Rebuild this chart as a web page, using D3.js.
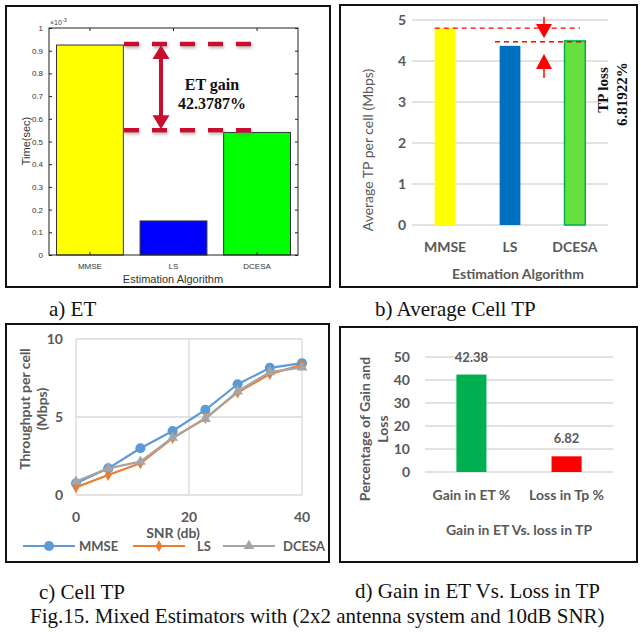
<!DOCTYPE html>
<html>
<head>
<meta charset="utf-8">
<script src="https://cdn.jsdelivr.net/npm/d3@7/dist/d3.min.js"></script>
<style>
body { margin: 0; background: #fff; }
</style>
</head>
<body>
<div id="fig"></div>
<script>
// ---- data ----
var algos = ["MMSE", "LS", "DCESA"];
var etTime = [0.925, 0.15, 0.54];          // execution time, x10^-3 sec
var etTicks = [0, 0.1, 0.2, 0.3, 0.4, 0.5, 0.6, 0.7, 0.8, 0.9, 1];
var etGuides = [0.93, 0.55];               // dashed lines for the gain arrow

var tpAvg = [4.8, 4.37, 4.49];             // Mbps
var tpTicks = [0, 1, 2, 3, 4, 5];
var tpGuides = [4.8, 4.47];

var snr = [0, 5.7, 11.4, 17.1, 22.9, 28.6, 34.3, 40];
var tpMMSE = [0.75, 1.71, 3.0, 4.1, 5.46, 7.1, 8.15, 8.45];
var tpLS = [0.49, 1.28, 2.03, 3.64, 4.93, 6.57, 7.75, 8.35];
var tpDCESA = [0.86, 1.71, 2.14, 3.68, 4.88, 6.64, 7.88, 8.18];
var snrTicks = [0, 20, 40];
var cellTicks = [0, 5, 10];

var gainCats = ["Gain in ET %", "Loss in Tp %"];
var gainVals = [42.38, 6.82];
var gainTicks = [0, 10, 20, 30, 40, 50];

var xlFont = "Lato, 'Open Sans', sans-serif";
var xlGray = "#595959";
var serif = "'Liberation Serif', 'Times New Roman', serif";

var svg = d3.select("#fig").append("svg")
    .attr("width", 641)
    .attr("height", 632);
svg.append("rect").attr("width", 641).attr("height", 632).attr("fill", "#fff");

// soft grey shadow under the thick dashes of panel a
var defs = svg.append("defs");
var blur = defs.append("filter").attr("id", "shade")
    .attr("filterUnits", "userSpaceOnUse")
    .attr("x", 0).attr("y", 0).attr("width", 641).attr("height", 632);
blur.append("feDropShadow")
    .attr("dx", 1).attr("dy", 2).attr("stdDeviation", 1.6)
    .attr("flood-color", "#777").attr("flood-opacity", 0.5);

// panel frames
function frame(x0, y0, x1, y1) {
    svg.append("rect")
        .attr("x", x0).attr("y", y0)
        .attr("width", x1 - x0).attr("height", y1 - y0)
        .attr("fill", "none").attr("stroke", "#111").attr("stroke-width", 2);
}
frame(6, 6, 330, 287);
frame(340, 5, 637, 287);
frame(6, 324, 329, 562);
frame(340, 327, 637, 562);

// ================= a) ET (matlab style) =================
var ga = svg.append("g").attr("font-family", "'Liberation Sans', Arial, sans-serif");
var xa = d3.scaleBand().domain(algos).range([49, 298]).paddingInner(0.2).paddingOuter(0.09);
var ya = d3.scaleLinear().domain([0, 1]).range([255, 28]);

ga.selectAll("rect.bar").data(algos).enter().append("rect")
    .attr("class", "bar")
    .attr("x", function(d) { return xa(d); })
    .attr("y", function(d, i) { return ya(etTime[i]); })
    .attr("width", xa.bandwidth())
    .attr("height", function(d, i) { return ya(0) - ya(etTime[i]); })
    .attr("fill", function(d, i) { return ["#ffff00", "#0000ff", "#00ff00"][i]; })
    .attr("stroke", "#333").attr("stroke-width", 1);

// box + ticks pointing inwards
ga.append("rect").attr("x", 49).attr("y", 28).attr("width", 249).attr("height", 227)
    .attr("fill", "none").attr("stroke", "#222").attr("stroke-width", 1);

var axL = ga.append("g").attr("transform", "translate(49,0)")
    .call(d3.axisLeft(ya).tickValues(etTicks).tickSizeInner(-3).tickSizeOuter(0).tickPadding(6)
        .tickFormat(function(d) { return String(d); }));
var axR = ga.append("g").attr("transform", "translate(298,0)")
    .call(d3.axisRight(ya).tickValues(etTicks).tickSizeInner(-3).tickSizeOuter(0).tickFormat(""));
var axB = ga.append("g").attr("transform", "translate(0,255)")
    .call(d3.axisBottom(xa).tickSizeInner(-3).tickSizeOuter(0).tickPadding(8));
var axT = ga.append("g").attr("transform", "translate(0,28)")
    .call(d3.axisTop(xa).tickSizeInner(-3).tickSizeOuter(0).tickFormat(""));
[axL, axR, axB, axT].forEach(function(a) {
    a.select(".domain").remove();
    a.selectAll("line").attr("stroke", "#222");
    a.selectAll("text").attr("font-family", "'Liberation Sans', Arial, sans-serif")
        .attr("font-size", 8).attr("fill", "#333");
});

ga.append("text").attr("x", 50).attr("y", 25).attr("font-size", 7).attr("fill", "#444")
    .html("\u00d710<tspan dy='-3' font-size='5.5'>-3</tspan>");
ga.append("text")
    .attr("transform", "translate(30,141) rotate(-90)")
    .attr("text-anchor", "middle").attr("font-size", 11).attr("fill", "#333")
    .text("Time(sec)");
ga.append("text").attr("x", 173).attr("y", 283)
    .attr("text-anchor", "middle").attr("font-size", 11).attr("fill", "#333")
    .text("Estimation Algorithm");

// gain annotation
var crim = "#c8102e";
var ann = ga.append("g");
ann.selectAll("line.guide").data(etGuides).enter().append("line")
    .attr("class", "guide")
    .attr("x1", 124).attr("x2", 252)
    .attr("y1", function(d) { return ya(d); })
    .attr("y2", function(d) { return ya(d); })
    .attr("stroke", crim).attr("stroke-width", 4.5)
    .attr("stroke-dasharray", "15,13")
    .attr("filter", "url(#shade)");
var ax0 = 161, yTop = ya(etGuides[0]) + 1, yBot = ya(etGuides[1]) - 1;
ann.append("line").attr("x1", ax0).attr("x2", ax0)
    .attr("y1", yTop + 10).attr("y2", yBot - 10)
    .attr("stroke", crim).attr("stroke-width", 4);
ann.append("path")
    .attr("d", "M" + ax0 + "," + yTop + "L" + (ax0 - 8.5) + "," + (yTop + 14) + "L" + (ax0 + 8.5) + "," + (yTop + 14) + "Z")
    .attr("fill", crim);
ann.append("path")
    .attr("d", "M" + ax0 + "," + yBot + "L" + (ax0 - 8.5) + "," + (yBot - 14) + "L" + (ax0 + 8.5) + "," + (yBot - 14) + "Z")
    .attr("fill", crim);
ann.append("text").attr("x", 212).attr("y", 90)
    .attr("text-anchor", "middle").attr("font-family", serif).attr("font-weight", "bold")
    .attr("font-size", 16).attr("fill", "#111").text("ET gain");
ann.append("text").attr("x", 212).attr("y", 109)
    .attr("text-anchor", "middle").attr("font-family", serif).attr("font-weight", "bold")
    .attr("font-size", 16).attr("fill", "#111").text("42.3787%");

// ================= b) Average Cell TP =================
var gb = svg.append("g").attr("font-family", xlFont);
var xb = d3.scaleBand().domain(algos).range([412, 608]).paddingInner(0.68).paddingOuter(0.35);
var yb = d3.scaleLinear().domain([0, 5]).range([225, 20]);

gb.selectAll("line.grid").data(tpTicks).enter().append("line")
    .attr("class", "grid")
    .attr("x1", 412).attr("x2", 608)
    .attr("y1", function(d) { return yb(d); }).attr("y2", function(d) { return yb(d); })
    .attr("stroke", "#d9d9d9").attr("stroke-width", 1.5);
gb.selectAll("text.tick").data(tpTicks).enter().append("text")
    .attr("class", "tick")
    .attr("x", 406).attr("y", function(d) { return yb(d) + 5; })
    .attr("text-anchor", "end").attr("font-size", 14).attr("font-weight", "bold").attr("fill", xlGray)
    .text(function(d) { return d; });

gb.selectAll("rect.bar").data(algos).enter().append("rect")
    .attr("class", "bar")
    .attr("x", function(d) { return xb(d); })
    .attr("y", function(d, i) { return yb(tpAvg[i]); })
    .attr("width", xb.bandwidth())
    .attr("height", function(d, i) { return yb(0) - yb(tpAvg[i]); })
    .attr("fill", function(d, i) { return ["#ffff00", "#0070c0", "#66e03f"][i]; })
    .attr("stroke", function(d, i) { return i === 2 ? "#00b050" : "none"; })
    .attr("stroke-width", 1.5);

gb.selectAll("text.cat").data(algos).enter().append("text")
    .attr("class", "cat")
    .attr("x", function(d) { return xb(d) + xb.bandwidth() / 2; })
    .attr("y", 252)
    .attr("text-anchor", "middle").attr("font-size", 14).attr("font-weight", "bold").attr("fill", xlGray)
    .text(function(d) { return d; });
gb.append("text").attr("x", 518).attr("y", 279)
    .attr("text-anchor", "middle").attr("font-size", 14).attr("font-weight", "bold").attr("fill", xlGray)
    .text("Estimation Algorithm");
gb.append("text")
    .attr("transform", "translate(373,150) rotate(-90)")
    .attr("text-anchor", "middle").attr("font-size", 14).attr("fill", xlGray)
    .text("Average TP per cell (Mbps)");

// loss annotation
var red = "#ff0000";
gb.append("line").attr("x1", xb("MMSE")).attr("x2", 580)
    .attr("y1", yb(tpGuides[0])).attr("y2", yb(tpGuides[0]))
    .attr("stroke", red).attr("stroke-width", 1.3).attr("stroke-dasharray", "5,4");
gb.append("line").attr("x1", 495).attr("x2", 586)
    .attr("y1", yb(tpGuides[1])).attr("y2", yb(tpGuides[1]))
    .attr("stroke", red).attr("stroke-width", 1.3).attr("stroke-dasharray", "5,4");
var bx = 544;
gb.append("line").attr("x1", bx).attr("x2", bx).attr("y1", 17).attr("y2", 26)
    .attr("stroke", red).attr("stroke-width", 1.5);
gb.append("path").attr("d", "M" + (bx - 8) + ",24L" + (bx + 8) + ",24L" + bx + ",38Z").attr("fill", red);
gb.append("line").attr("x1", bx).attr("x2", bx).attr("y1", 67).attr("y2", 78)
    .attr("stroke", red).attr("stroke-width", 1.5);
gb.append("path").attr("d", "M" + (bx - 8) + ",69L" + (bx + 8) + ",69L" + bx + ",54Z").attr("fill", red);
gb.append("text")
    .attr("transform", "translate(603,90) rotate(-90)")
    .attr("text-anchor", "middle").attr("dominant-baseline", "central")
    .attr("font-family", serif).attr("font-weight", "bold").attr("font-size", 15).attr("fill", "#111")
    .text("TP loss");
gb.append("text")
    .attr("transform", "translate(622,94) rotate(-90)")
    .attr("text-anchor", "middle").attr("dominant-baseline", "central")
    .attr("font-family", serif).attr("font-weight", "bold").attr("font-size", 15).attr("fill", "#111")
    .text("6.81922%");

// ================= c) Cell TP =================
var gc = svg.append("g").attr("font-family", xlFont);
var xc = d3.scaleLinear().domain([0, 40]).range([76, 302]);
var yc = d3.scaleLinear().domain([0, 10]).range([495, 339]);

gc.selectAll("line.hgrid").data(cellTicks).enter().append("line")
    .attr("class", "hgrid")
    .attr("x1", xc(0)).attr("x2", xc(40))
    .attr("y1", function(d) { return yc(d); }).attr("y2", function(d) { return yc(d); })
    .attr("stroke", "#d9d9d9").attr("stroke-width", 1.3);
gc.selectAll("line.vgrid").data(snrTicks).enter().append("line")
    .attr("class", "vgrid")
    .attr("y1", yc(0)).attr("y2", yc(10))
    .attr("x1", function(d) { return xc(d); }).attr("x2", function(d) { return xc(d); })
    .attr("stroke", "#d9d9d9").attr("stroke-width", 1.3);
gc.selectAll("text.ytick").data(cellTicks).enter().append("text")
    .attr("class", "ytick")
    .attr("x", 63).attr("y", function(d) { return yc(d) + 5; })
    .attr("text-anchor", "end").attr("font-size", 14).attr("font-weight", "bold").attr("fill", xlGray)
    .text(function(d) { return d; });
gc.selectAll("text.xtick").data(snrTicks).enter().append("text")
    .attr("class", "xtick")
    .attr("x", function(d) { return xc(d); }).attr("y", 522)
    .attr("text-anchor", "middle").attr("font-size", 14).attr("font-weight", "bold").attr("fill", xlGray)
    .text(function(d) { return d; });

gc.append("text").attr("x", 173).attr("y", 538)
    .attr("text-anchor", "middle").attr("font-size", 14).attr("font-weight", "bold").attr("fill", xlGray)
    .text("SNR (db)");
var yTitle = gc.append("text")
    .attr("transform", "translate(30,409) rotate(-90)")
    .attr("text-anchor", "middle").attr("font-size", 14).attr("font-weight", "bold").attr("fill", xlGray);
yTitle.append("tspan").attr("x", 0).attr("dy", 0).text("Throughput per cell");
yTitle.append("tspan").attr("x", 0).attr("dy", 17).text("(Mbps)");

var series = [
    { name: "MMSE", vals: tpMMSE, color: "#5b9bd5", shape: d3.symbolCircle, size: 80 },
    { name: "LS", vals: tpLS, color: "#ed7d31", shape: d3.symbolDiamond, size: 40 },
    { name: "DCESA", vals: tpDCESA, color: "#a5a5a5", shape: d3.symbolTriangle, size: 50 }
];
var line = d3.line()
    .x(function(d, i) { return xc(snr[i]); })
    .y(function(d) { return yc(d); });

series.forEach(function(s) {
    gc.append("path").datum(s.vals)
        .attr("d", line)
        .attr("fill", "none").attr("stroke", s.color).attr("stroke-width", 2.2)
        .attr("stroke-linejoin", "round");
    gc.selectAll("path.m-" + s.name).data(s.vals).enter().append("path")
        .attr("class", "m-" + s.name)
        .attr("transform", function(d, i) { return "translate(" + xc(snr[i]) + "," + yc(d) + ")"; })
        .attr("d", d3.symbol().type(s.shape).size(s.size))
        .attr("fill", s.color);
});

// legend
var legX = [23, 133, 223];
var leg = gc.selectAll("g.leg").data(series).enter().append("g")
    .attr("class", "leg")
    .attr("transform", function(d, i) { return "translate(" + legX[i] + ",546)"; });
leg.append("line").attr("x1", 0).attr("x2", 52)
    .attr("stroke", function(d) { return d.color; }).attr("stroke-width", 2.2);
leg.append("path").attr("transform", "translate(26,0)")
    .attr("d", function(d) { return d3.symbol().type(d.shape).size(d.size)(); })
    .attr("fill", function(d) { return d.color; });
leg.append("text")
    .attr("x", function(d, i) { return [56, 64, 60][i]; }).attr("y", 5)
    .attr("font-size", 13).attr("font-weight", "bold").attr("fill", xlGray)
    .text(function(d) { return d.name; });

// ================= d) Gain vs loss =================
var gd = svg.append("g").attr("font-family", xlFont);
var xd = d3.scaleBand().domain(gainCats).range([425, 613]).paddingInner(0.684).paddingOuter(0.33);
var yd = d3.scaleLinear().domain([0, 50]).range([472, 357]);

gd.selectAll("line.grid").data(gainTicks).enter().append("line")
    .attr("class", "grid")
    .attr("x1", 425).attr("x2", 613)
    .attr("y1", function(d) { return yd(d); }).attr("y2", function(d) { return yd(d); })
    .attr("stroke", "#d9d9d9").attr("stroke-width", 1.5);
gd.selectAll("text.tick").data(gainTicks).enter().append("text")
    .attr("class", "tick")
    .attr("x", 410).attr("y", function(d) { return yd(d) + 5; })
    .attr("text-anchor", "end").attr("font-size", 14).attr("font-weight", "bold").attr("fill", xlGray)
    .text(function(d) { return d; });

gd.selectAll("rect.bar").data(gainCats).enter().append("rect")
    .attr("class", "bar")
    .attr("x", function(d) { return xd(d); })
    .attr("y", function(d, i) { return yd(gainVals[i]); })
    .attr("width", xd.bandwidth())
    .attr("height", function(d, i) { return yd(0) - yd(gainVals[i]); })
    .attr("fill", function(d, i) { return ["#00b050", "#ff0000"][i]; });
gd.selectAll("text.val").data(gainCats).enter().append("text")
    .attr("class", "val")
    .attr("x", function(d) { return xd(d) + xd.bandwidth() / 2; })
    .attr("y", function(d, i) { return yd(gainVals[i]) - 13; })
    .attr("text-anchor", "middle").attr("font-size", 13).attr("font-weight", "bold").attr("fill", xlGray)
    .text(function(d, i) { return gainVals[i].toFixed(2); });
gd.selectAll("text.cat").data(gainCats).enter().append("text")
    .attr("class", "cat")
    .attr("x", function(d) { return xd(d) + xd.bandwidth() / 2; })
    .attr("y", 500)
    .attr("text-anchor", "middle").attr("font-size", 14).attr("font-weight", "bold").attr("fill", xlGray)
    .text(function(d) { return d; });
gd.append("text").attr("x", 519).attr("y", 535)
    .attr("text-anchor", "middle").attr("font-size", 14).attr("font-weight", "bold").attr("fill", xlGray)
    .text("Gain in ET Vs. loss in TP");
var yTitleD = gd.append("text")
    .attr("transform", "translate(370,429) rotate(-90)")
    .attr("text-anchor", "middle").attr("font-size", 14).attr("font-weight", "bold").attr("fill", xlGray);
yTitleD.append("tspan").attr("x", 0).attr("dy", 0).text("Percentage of Gain and");
yTitleD.append("tspan").attr("x", 0).attr("dy", 18).text("Loss");

// ================= captions =================
var cap = svg.append("g").attr("font-family", serif).attr("font-size", 21).attr("fill", "#111");
cap.append("text").attr("x", 49).attr("y", 316).text("a) ET");
cap.append("text").attr("x", 375).attr("y", 316).text("b) Average Cell TP");
cap.append("text").attr("x", 39).attr("y", 599).text("c) Cell TP");
cap.append("text").attr("x", 355).attr("y", 598).text("d) Gain in ET Vs. Loss in TP");
cap.append("text").attr("x", 30).attr("y", 623)
    .text("Fig.15. Mixed Estimators with (2x2 antenna system and 10dB SNR)");
</script>
</body>
</html>
